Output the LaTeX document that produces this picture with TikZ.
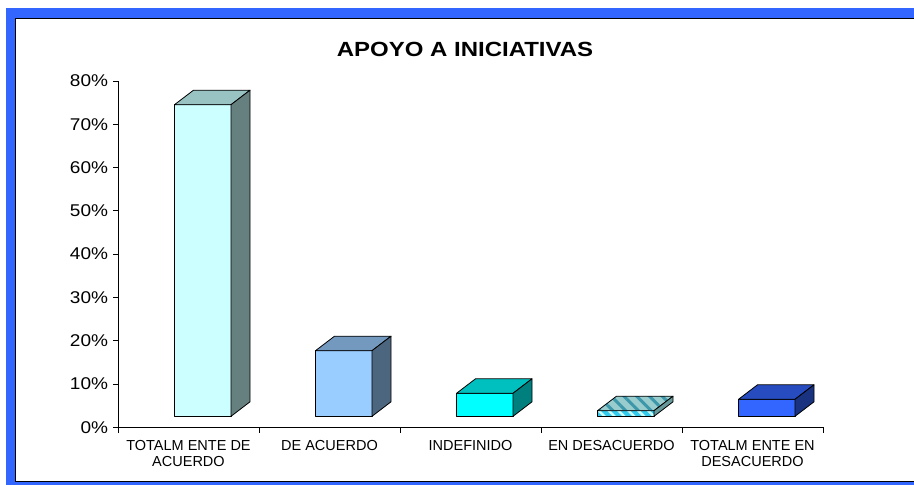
\documentclass[tikz,border=0pt]{standalone}
\usepackage{fontspec}
\setmainfont{Liberation Sans}
\usepackage{graphicx}
\usepackage{tikz}
\usetikzlibrary{calc, patterns.meta}

\definecolor{frameblue}{HTML}{3366FF}
\definecolor{paleface}{HTML}{CCFFFF}
\definecolor{paletop}{HTML}{99C2C2}
\definecolor{paleside}{HTML}{667F7F}
\definecolor{skyface}{HTML}{99CCFF}
\definecolor{skytop}{HTML}{7399BF}
\definecolor{skyside}{HTML}{4C6680}
\definecolor{aquaface}{HTML}{00FFFF}
\definecolor{aquatop}{HTML}{00BFBF}
\definecolor{aquaside}{HTML}{007F7F}
\definecolor{stripeface}{HTML}{33CCEE}
\definecolor{stripetop}{HTML}{99CCCC}
\definecolor{stripeline}{HTML}{3D97AA}
\definecolor{stripeside}{HTML}{669999}
\definecolor{royalface}{HTML}{3366FF}
\definecolor{royaltop}{HTML}{264CBF}
\definecolor{royalside}{HTML}{1A3380}

\newcommand{\stretchx}[2][1.12]{\scalebox{#1}[1]{#2}}

\begin{document}
\begin{tikzpicture}[x=1pt, y=-1pt, line width=0.8pt,
  facet/.style={draw=black, line width=0.8pt, line join=round},
  ylabel/.style={anchor=east, inner sep=0pt, font=\fontsize{17}{17}\selectfont},
  catlabel/.style={anchor=north, inner sep=0pt, align=center, font=\fontsize{14.5}{16.6}\selectfont}]
\useasboundingbox (0,0) rectangle (914,485);
\clip (0,0) rectangle (914,485);

% frame
\fill[frameblue] (6,8) rectangle (940,500);
\draw[fill=white, line width=1.2pt] (15.6,18.2) rectangle (940,481.4);

% title
\node[anchor=base, inner sep=0pt, font=\bfseries\fontsize{20.5}{21}\selectfont] (title) at (465,56)
  {\stretchx[1.17]{APOYO A INICIATIVAS}};

% value axis
\draw (118,81) -- (118,427.3) -- (823,427.3);
\foreach \v in {0,...,8} {
  \pgfmathsetmacro\yy{427.3-43.3*\v}
  \pgfmathtruncatemacro\p{10*\v}
  \draw (113,\yy) -- (118,\yy);
  \node[ylabel] (y\p) at (108.5,\yy) {\stretchx{\p\%}};
}

% category ticks
\foreach \x in {118, 259, 400, 541, 682, 823}
  \draw (\x,427.3) -- (\x,433);

% bars
\foreach \c/\t/\f/\u/\s in {188.5/104.7/paleface/paletop/paleside,
                            329.5/350.7/skyface/skytop/skyside,
                            470.5/393.3/aquaface/aquatop/aquaside,
                            752.5/399.3/royalface/royaltop/royalside} {
  \draw[facet, fill=\f] (\c-14,416.3) rectangle (\c+42.5,\t);
  \draw[facet, fill=\u] (\c-14,\t) -- (\c+5,\t-14.5) -- (\c+61.5,\t-14.5) -- (\c+42.5,\t) -- cycle;
  \draw[facet, fill=\s] (\c+42.5,\t) -- (\c+61.5,\t-14.5) -- (\c+61.5,401.8) -- (\c+42.5,416.3) -- cycle;
}

% flat bar
\coordinate (b1) at (597.5,416.3);
\coordinate (b2) at (654,416.3);
\coordinate (b3) at (654,410.7);
\coordinate (b4) at (597.5,410.7);
\coordinate (b5) at (616.5,396.2);
\coordinate (b6) at (673,396.2);
\coordinate (b7) at (673,401.8);

\draw[facet, preaction={fill=stripeface}, pattern={Lines[angle=-45, distance=7pt, line width=2.5pt]}, pattern color=paleface]
  (b1) -- (b2) -- (b3) -- (b4) -- cycle;
\draw[facet, preaction={fill=stripetop}, pattern={Lines[angle=-45, distance=9pt, line width=3pt]}, pattern color=stripeline]
  (b4) -- (b5) -- (b6) -- (b3) -- cycle;
\draw[facet, fill=stripeside] (b3) -- (b6) -- (b7) -- (b2) -- cycle;

% category labels
\node[catlabel] (c1) at (188.5,439.5) {TOTALM ENTE DE\\ACUERDO};
\node[catlabel] (c2) at (329.5,439.5) {DE ACUERDO};
\node[catlabel] (c3) at (470.5,439.5) {INDEFINIDO};
\node[catlabel] (c4) at (611.5,439.5) {EN DESACUERDO};
\node[catlabel] (c5) at (752.5,439.5) {TOTALM ENTE EN\\DESACUERDO};
\end{tikzpicture}
\end{document}
